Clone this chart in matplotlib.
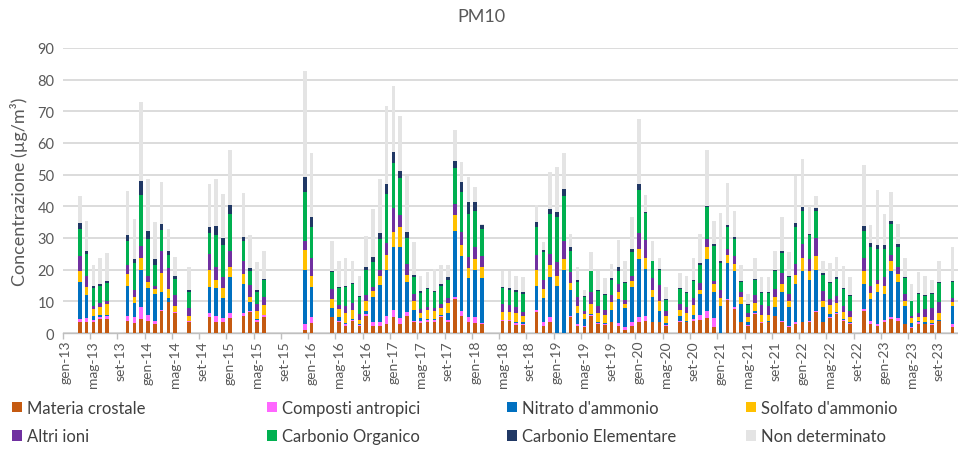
import numpy as np
import matplotlib
matplotlib.use("Agg")
import matplotlib.pyplot as plt
from matplotlib.patches import Patch

plt.rcParams['font.family'] = ['Lato', 'DejaVu Sans']

# mesi con dati (anno-mese)
mesi = [
    "2013-03", "2013-04", "2013-05", "2013-06", "2013-07", "2013-10", "2013-11", "2013-12",
    "2014-01", "2014-02", "2014-03", "2014-04", "2014-05", "2014-07", "2014-10", "2014-11", "2014-12",
    "2015-01", "2015-03", "2015-04", "2015-05", "2015-06", "2015-12",
    "2016-01", "2016-04", "2016-05", "2016-06", "2016-07", "2016-08", "2016-09", "2016-10", "2016-11", "2016-12",
    "2017-01", "2017-02", "2017-03", "2017-04", "2017-05", "2017-06", "2017-07", "2017-08", "2017-09", "2017-10", "2017-11", "2017-12",
    "2018-01", "2018-02", "2018-05", "2018-06", "2018-07", "2018-08", "2018-10", "2018-11", "2018-12",
    "2019-01", "2019-02", "2019-03", "2019-04", "2019-05", "2019-06", "2019-07", "2019-08", "2019-09", "2019-10", "2019-11", "2019-12",
    "2020-01", "2020-02", "2020-03", "2020-04", "2020-05", "2020-07", "2020-08", "2020-09", "2020-10", "2020-11", "2020-12",
    "2021-01", "2021-02", "2021-03", "2021-04", "2021-05", "2021-06", "2021-07", "2021-08", "2021-09", "2021-10", "2021-11", "2021-12",
    "2022-01", "2022-02", "2022-03", "2022-04", "2022-05", "2022-06", "2022-07", "2022-08", "2022-10", "2022-11", "2022-12",
    "2023-01", "2023-02", "2023-03", "2023-04", "2023-05", "2023-06", "2023-07", "2023-08", "2023-09", "2023-11", "2023-12",
]

materia_crostale = [
    3.4, 3.4, 3.6, 4.4, 4.4, 3.9, 3.1, 4.4,
    3.9, 2.8, 6.8, 9.7, 6.3, 3.4, 5.2, 3.6, 3.4,
    4.6, 5.5, 6.7, 3.4, 5.2, 1.1,
    3.1, 4.9, 3.4, 2.3, 3.9, 2.3, 5.5, 2.3, 2.1, 2.8,
    4.9, 2.8, 5.5, 3.4, 3.1, 3.6, 3.4, 4.9, 3.6, 10.7, 5.3, 3.6,
    3.2, 2.8, 3.7, 3.7, 2.6, 2.6, 6.7, 2.3, 3.4,
    0, 0, 5.2, 2.3, 1.8, 5.5, 2.8, 2.5, 3.4, 2.3, 1.1, 2.3,
    3.4, 3.9, 3.4, 3.4, 2.3, 3.6, 3.4, 3.9, 4.2, 4.6, 1.8,
    0, 10.4, 7.6, 3.4, 2.3, 6.0, 3.2, 3.4, 5.3, 3.4, 1.8, 2.8,
    3.4, 3.6, 6.7, 3.4, 4.6, 6.0, 3.9, 2.8, 7.1, 2.8, 2.1,
    3.4, 4.4, 3.9, 2.8, 1.5, 2.8, 2.8, 2.6, 3.7, 2.0, 3.0,
]
composti_antropici = [
    1.0, 1.2, 0.6, 0.5, 0.9, 1.4, 1.8, 3.7,
    1.8, 1.1, 0.6, 0.2, 0.2, 0.3, 1.1, 1.7, 1.4,
    1.6, 0.8, 0.4, 0.8, 0.5, 1.7,
    1.8, 0.3, 0.5, 0.5, 0.2, 0.2, 0.5, 1.1, 1.5, 2.5,
    2.5, 1.8, 1.0, 0.5, 0.6, 0.4, 0.7, 0.6, 0.6, 0.6, 1.8, 1.6,
    1.7, 0.3, 0.3, 0.3, 0.6, 0.4, 0.7, 1.1, 1.5,
    0, 0, 0.3, 0.5, 0.5, 0.2, 0.3, 0.3, 0.2, 0.9, 0.9, 1.1,
    1.5, 1.6, 0.2, 0.2, 0.2, 0.2, 0.2, 0.5, 1.5, 2.5, 2.8,
    0, 0.3, 0.5, 0.2, 0.2, 0.2, 0.2, 0.2, 0.2, 0.5, 0.5, 0.8,
    0.2, 0.3, 0.4, 0.2, 0.3, 0.3, 0.2, 0.3, 0.5, 1.1, 0.7,
    0.8, 0.5, 0.7, 0.2, 0.5, 0.6, 0.2, 0.2, 0.2, 0.8, 0.5,
]
nitrato_ammonio = [
    11.6, 7.4, 1.3, 0.8, 0.4, 9.4, 4.6, 11.9,
    8.4, 8.4, 5.7, 1.0, 0.2, 0.2, 8.3, 8.8, 6.2,
    11.4, 9.2, 2.6, 0.2, 0.1, 17.2,
    9.7, 2.6, 1.3, 0.3, 0.3, 0.3, 1.1, 7.9, 11.6, 14.7,
    19.9, 22.7, 9.7, 3.5, 0.9, 0.4, 0.3, 0.2, 2.0, 21.0, 17.3, 12.2,
    15.1, 14.2, 0.2, 0.2, 0.2, 0.4, 7.3, 7.6, 12.7,
    14.7, 20.0, 8.1, 3.5, 2.1, 0.3, 0.3, 0.3, 3.8, 7.5, 5.8, 11.0,
    18.5, 14.7, 7.7, 3.5, 0.7, 1.5, 0.3, 1.4, 6.6, 16.3, 8.2,
    8.6, 11.4, 11.6, 5.6, 1.1, 0.9, 0.1, 0.3, 2.6, 8.9, 5.8, 11.9,
    16.1, 12.9, 12.9, 4.5, 1.1, 0.4, 0.3, 0.3, 7.9, 6.8, 10.0,
    8.1, 14.8, 11.6, 5.4, 1.1, 0.5, 0.6, 0.4, 0.3, 5.8, 10.0,
]
solfato_ammonio = [
    3.7, 2.4, 2.1, 2.4, 3.5, 3.9, 2.0, 3.6,
    2.1, 1.6, 5.8, 3.0, 1.7, 1.6, 5.3, 2.7, 3.1,
    3.1, 3.1, 1.8, 2.7, 3.1, 6.3,
    3.3, 2.9, 2.4, 3.2, 3.0, 1.3, 3.1, 2.1, 2.9, 4.7,
    4.5, 6.1, 2.1, 2.8, 1.7, 3.0, 2.4, 2.1, 3.3, 5.1, 3.4, 3.0,
    3.4, 3.6, 2.3, 2.3, 2.8, 2.1, 5.3, 2.9, 4.0,
    3.4, 3.4, 2.1, 2.3, 1.6, 3.2, 2.9, 2.6, 2.5, 2.1, 1.4, 2.1,
    3.1, 3.4, 2.4, 3.1, 2.1, 2.1, 2.4, 3.1, 1.3, 3.9, 2.7,
    2.3, 2.6, 2.1, 2.1, 1.3, 2.4, 2.3, 1.8, 3.2, 2.7, 2.1, 2.8,
    3.9, 2.9, 4.2, 1.9, 2.9, 2.7, 2.1, 1.5, 4.0, 1.9, 2.7,
    2.4, 3.1, 2.4, 1.8, 1.6, 1.0, 1.6, 1.0, 2.1, 1.3, 3.0,
]
altri_ioni = [
    4.5, 3.5, 1.0, 1.4, 1.0, 2.9, 2.1, 3.8,
    1.7, 1.0, 6.9, 6.5, 3.6, 2.3, 5.0, 3.9, 3.5,
    5.3, 4.2, 3.7, 2.1, 2.6, 2.9,
    5.8, 3.2, 1.2, 2.3, 2.0, 1.9, 1.9, 1.2, 1.9, 3.7,
    7.6, 3.9, 3.5, 2.1, 1.3, 0.9, 1.0, 1.3, 1.5, 3.3, 4.0, 3.5,
    3.9, 3.5, 2.7, 2.4, 1.9, 1.0, 4.7, 2.9, 3.3,
    4.2, 5.8, 3.5, 2.7, 1.1, 3.6, 2.3, 1.7, 2.1, 2.7, 1.3, 1.4,
    5.1, 5.9, 3.6, 5.0, 1.8, 1.8, 1.8, 2.0, 2.2, 2.4, 1.0,
    2.7, 1.8, 2.6, 1.7, 1.4, 2.5, 2.9, 2.9, 2.6, 3.4, 2.1, 3.5,
    4.5, 3.7, 5.7, 3.4, 1.8, 2.2, 2.1, 1.9, 4.1, 2.1, 1.3,
    2.9, 1.9, 2.1, 2.1, 0.8, 1.4, 2.4, 3.6, 3.4, 1.0, 4.0,
]
carbonio_organico = [
    8.8, 7.1, 5.5, 5.2, 5.6, 7.7, 8.5, 16.2,
    11.8, 6.7, 6.7, 4.2, 5.1, 5.0, 6.6, 10.4, 10.3,
    11.6, 6.4, 4.5, 3.9, 5.2, 15.2,
    9.7, 5.5, 5.3, 6.0, 6.1, 5.3, 7.9, 7.9, 9.7, 15.5,
    14.3, 11.5, 8.1, 5.3, 5.0, 5.6, 5.0, 5.8, 5.8, 11.3, 12.8, 13.7,
    11.3, 8.4, 4.9, 4.8, 5.0, 5.8, 8.7, 8.9, 12.7,
    14.2, 14.2, 6.8, 4.9, 4.2, 6.7, 4.8, 4.6, 4.8, 4.2, 5.3, 7.6,
    13.6, 8.4, 5.3, 4.7, 3.4, 4.7, 4.4, 5.6, 5.7, 10.0, 10.9,
    8.5, 6.9, 5.3, 3.2, 2.6, 4.8, 3.9, 4.0, 5.6, 6.3, 5.5, 11.6,
    10.5, 7.5, 8.7, 5.0, 5.1, 5.5, 5.3, 4.8, 8.7, 12.4, 9.7,
    8.9, 9.7, 6.4, 5.0, 4.5, 6.0, 4.2, 4.5, 6.1, 5.1, 9.0,
]
carbonio_elementare = [
    1.7, 1.0, 0.6, 0.8, 0.7, 1.7, 1.3, 4.3,
    2.4, 1.8, 1.8, 1.4, 0.8, 0.9, 1.9, 2.8, 2.1,
    2.8, 1.2, 0.7, 0.6, 0.4, 4.8,
    3.1, 0.3, 0.3, 0.3, 0.3, 0.3, 0.7, 1.6, 1.9, 3.2,
    3.6, 2.3, 1.9, 0.7, 0.8, 0.4, 0.6, 0.5, 0.8, 2.4, 3.2, 3.9,
    2.9, 1.4, 0.5, 0.5, 0.5, 0.5, 1.5, 0.4, 1.6,
    1.8, 2.1, 1.1, 0.4, 0.3, 0.2, 0.3, 0.3, 0.5, 1.2, 0.4, 1.0,
    1.9, 0.4, 0.2, 0.2, 0.2, 0.4, 0.3, 0.3, 0.6, 0.5, 0.7,
    0.7, 0.7, 0.5, 0.3, 0.3, 0.3, 0.3, 0.2, 0.4, 0.6, 0.3, 1.2,
    1.1, 0.4, 0.8, 0.4, 0.4, 0.5, 0.4, 0.4, 1.6, 1.3, 1.3,
    1.3, 1.1, 1.0, 0.3, 0.2, 0.3, 0.3, 0.3, 0.4, 0.5, 1.5,
]
non_determinato = [
    8.7, 9.3, 6.9, 8.1, 8.7, 14.1, 12.6, 24.9,
    16.5, 11.5, 13.3, 7.0, 6.2, 7.0, 13.7, 14.7, 13.9,
    17.5, 13.8, 10.5, 8.6, 8.9, 33.6,
    20.3, 9.5, 8.4, 8.7, 7.0, 6.3, 10.0, 15.1, 17.0, 24.7,
    20.8, 17.3, 17.7, 10.5, 4.5, 5.1, 6.8, 6.1, 3.9, 9.7, 6.3, 7.7,
    4.5, 0.3, 5.1, 5.5, 4.3, 4.8, 5.6, 2.5, 11.5,
    14.0, 11.2, 4.2, 4.1, 2.1, 6.0, 5.8, 5.0, 4.5, 8.5, 6.6, 10.0,
    20.5, 5.3, 6.4, 3.5, 3.7, 4.5, 5.3, 6.8, 9.2, 17.7, 7.2,
    15.1, 13.3, 8.4, 5.1, 3.1, 6.5, 4.8, 4.8, 6.1, 10.7, 7.4, 15.1,
    15.2, 8.9, 3.8, 4.0, 5.9, 6.5, 7.0, 5.6, 19.2, 5.7, 17.4,
    9.8, 8.9, 6.3, 6.0, 5.3, 6.6, 6.0, 4.2, 6.6, 10.8, 9.0,
]

serie = [
    ("Materia crostale", materia_crostale, "#C55A11"),
    ("Composti antropici", composti_antropici, "#FF66FF"),
    ("Nitrato d'ammonio", nitrato_ammonio, "#0070C0"),
    ("Solfato d'ammonio", solfato_ammonio, "#FFC000"),
    ("Altri ioni", altri_ioni, "#7030A0"),
    ("Carbonio Organico", carbonio_organico, "#00B050"),
    ("Carbonio Elementare", carbonio_elementare, "#203864"),
    ("Non determinato", non_determinato, "#E4E4E4"),
]

nomi_mesi = ["gen", "feb", "mar", "apr", "mag", "giu", "lug", "ago", "set", "ott", "nov", "dic"]

# indice del mese a partire da gennaio 2013
idx = np.array([(int(m[:4]) - 2013) * 12 + int(m[5:]) - 1 for m in mesi])
x = idx + 0.5

fig = plt.figure(figsize=(9.58, 4.52), dpi=100)
ax = fig.add_axes([62.7 / 958, 1 - 334 / 452, (958 - 62.7) / 958, 285 / 452])

bottom = np.zeros(len(mesi))
for nome, vals, col in serie:
    vals = np.array(vals)
    ax.bar(x, vals, bottom=bottom, width=0.52, color=col, linewidth=0, zorder=3)
    bottom += vals

ax.set_xlim(0, 131.3)
ax.set_ylim(0, 90)
ax.set_yticks(range(0, 91, 10))
ax.yaxis.grid(True, color="#D9D9D9", linewidth=1.3, zorder=0)
ax.tick_params(axis="y", length=0, labelsize=10.5, labelcolor="#595959", pad=6)

tick_mesi = list(range(0, 132, 4))
ax.set_xticks([m + 0.5 for m in tick_mesi])
ax.set_xticklabels([f"{nomi_mesi[m % 12]}-{13 + m // 12}" for m in tick_mesi],
                   rotation=90, fontsize=10, color="#595959")
ax.tick_params(axis="x", which="major", length=0, pad=5)
ax.set_xticks(tick_mesi, minor=True)
ax.tick_params(axis="x", which="minor", length=4, width=1, color="#BFBFBF")

for s in ["top", "right", "left"]:
    ax.spines[s].set_visible(False)
ax.spines["bottom"].set_color("#BFBFBF")
ax.spines["bottom"].set_linewidth(1)

ax.set_ylabel("Concentrazione (µg/m³)", fontsize=13, color="#595959", labelpad=7)
fig.text(481 / 958, 1 - 17 / 452, "PM10", ha="center", va="center", fontsize=13, color="#595959")

# legenda in quattro colonne
col_x = [12, 267, 507, 746]
for c in range(4):
    handles = [Patch(facecolor=serie[c + r * 4][2], label=serie[c + r * 4][0]) for r in range(2)]
    fig.legend(handles=handles, loc="center left", bbox_to_anchor=(col_x[c] / 958, 1 - 423 / 452),
               frameon=False, fontsize=12, handlelength=0.6, handleheight=0.6,
               handletextpad=0.3, borderpad=0, borderaxespad=0, labelspacing=0.75,
               labelcolor="#404040")

fig.savefig("out.png", dpi=100)
